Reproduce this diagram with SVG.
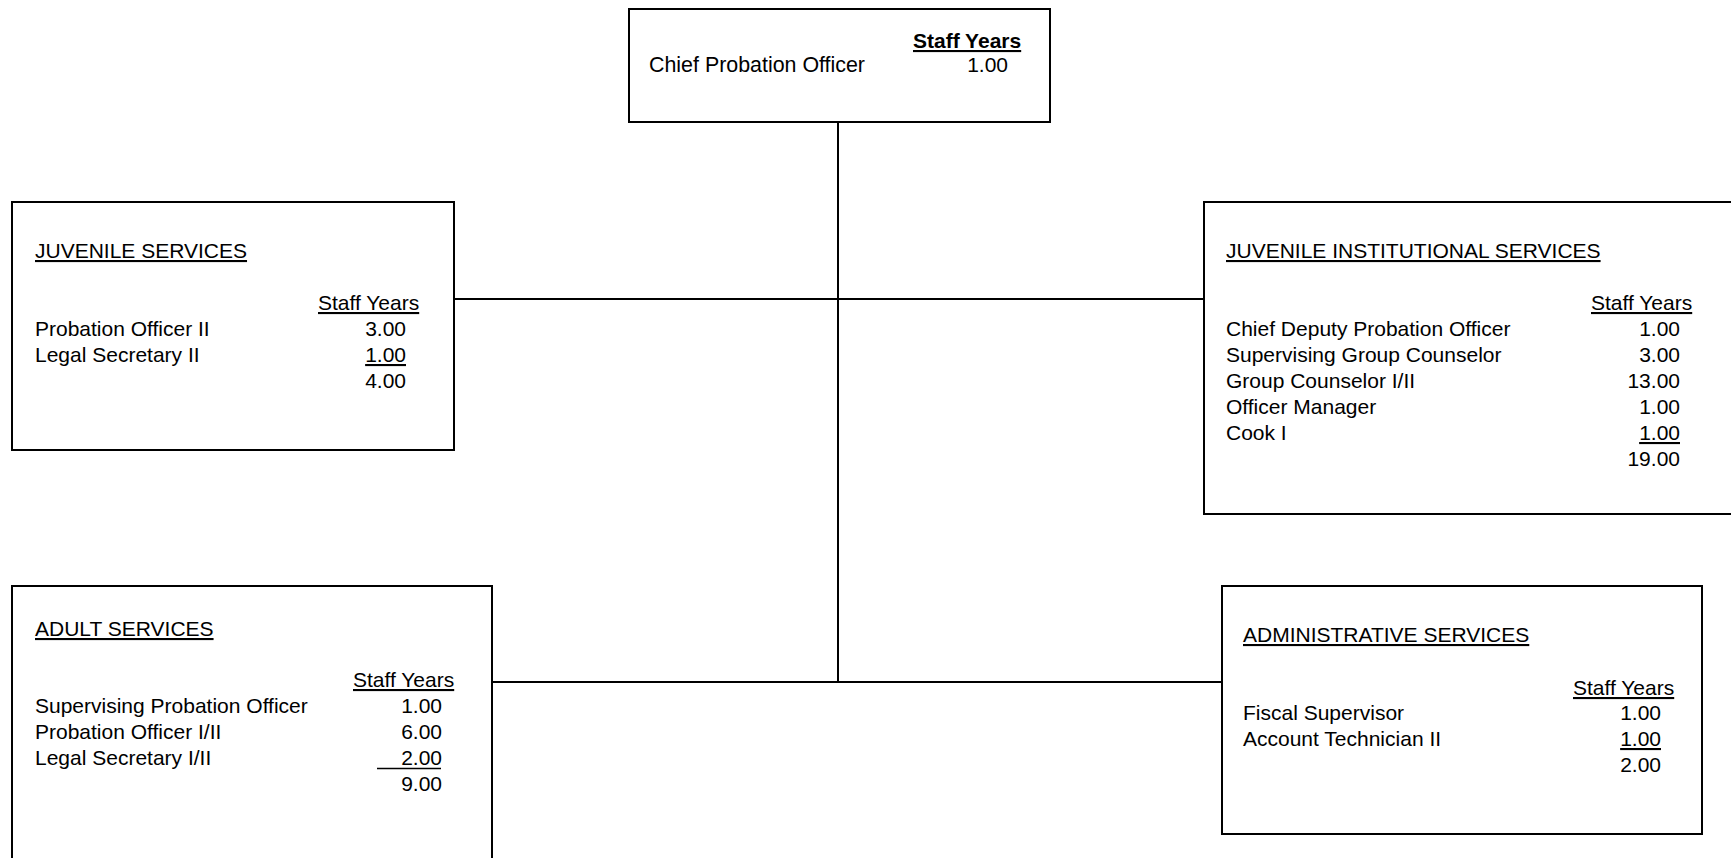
<svg xmlns="http://www.w3.org/2000/svg" width="1731" height="858" viewBox="0 0 1731 858">
<style>
text { font-family: "Liberation Sans", Arial, sans-serif; font-size: 21px; fill: #000; }
.box { fill: #fff; stroke: #000; stroke-width: 2; }
.conn { stroke: #000; stroke-width: 2; fill: none; }
.u { text-decoration: underline; }
.b { font-weight: bold; }
.n { text-anchor: end; }
.ul { stroke: #000; stroke-width: 1.6; }
</style>
<rect width="1731" height="858" fill="#fff"/>
<g id="connectors">
<line class="conn" x1="838" y1="122" x2="838" y2="682"/>
<line class="conn" x1="454" y1="299" x2="1204" y2="299"/>
<line class="conn" x1="492" y1="682" x2="1222" y2="682"/>
</g>
<g id="chief">
<rect class="box" x="629" y="9" width="421" height="113"/>
<text class="b u" x="913" y="48">Staff Years</text>
<text x="649" y="72" style="font-size:21.4px">Chief Probation Officer</text>
<text class="n" x="1008" y="72">1.00</text>
</g>
<g id="juvenile">
<rect class="box" x="12" y="202" width="442" height="248"/>
<text class="u" x="35" y="258">JUVENILE SERVICES</text>
<text class="u" x="318" y="310">Staff Years</text>
<text x="35" y="336">Probation Officer II</text>
<text class="n" x="406" y="336">3.00</text>
<text x="35" y="362">Legal Secretary II</text>
<text class="n u" x="406" y="362">1.00</text>
<text class="n" x="406" y="388">4.00</text>
</g>
<g id="juvenile-institutional">
<rect class="box" x="1204" y="202" width="530" height="312"/>
<text class="u" x="1226" y="258">JUVENILE INSTITUTIONAL SERVICES</text>
<text class="u" x="1591" y="310">Staff Years</text>
<text x="1226" y="336">Chief Deputy Probation Officer</text>
<text class="n" x="1680" y="336">1.00</text>
<text x="1226" y="362">Supervising Group Counselor</text>
<text class="n" x="1680" y="362">3.00</text>
<text x="1226" y="388">Group Counselor I/II</text>
<text class="n" x="1680" y="388">13.00</text>
<text x="1226" y="414">Officer Manager</text>
<text class="n" x="1680" y="414">1.00</text>
<text x="1226" y="440">Cook I</text>
<text class="n u" x="1680" y="440">1.00</text>
<text class="n" x="1680" y="466">19.00</text>
</g>
<g id="adult">
<rect class="box" x="12" y="586" width="480" height="290"/>
<text class="u" x="35" y="636">ADULT SERVICES</text>
<text class="u" x="353" y="687">Staff Years</text>
<text x="35" y="713">Supervising Probation Officer</text>
<text class="n" x="442" y="713">1.00</text>
<text x="35" y="739">Probation Officer I/II</text>
<text class="n" x="442" y="739">6.00</text>
<text x="35" y="765">Legal Secretary I/II</text>
<text class="n" x="442" y="765">2.00</text>
<line class="ul" x1="377" y1="768.5" x2="441" y2="768.5"/>
<text class="n" x="442" y="791">9.00</text>
</g>
<g id="administrative">
<rect class="box" x="1222" y="586" width="480" height="248"/>
<text class="u" x="1243" y="642">ADMINISTRATIVE SERVICES</text>
<text class="u" x="1573" y="695">Staff Years</text>
<text x="1243" y="720">Fiscal Supervisor</text>
<text class="n" x="1661" y="720">1.00</text>
<text x="1243" y="746">Account Technician II</text>
<text class="n u" x="1661" y="746">1.00</text>
<text class="n" x="1661" y="772">2.00</text>
</g>
</svg>
